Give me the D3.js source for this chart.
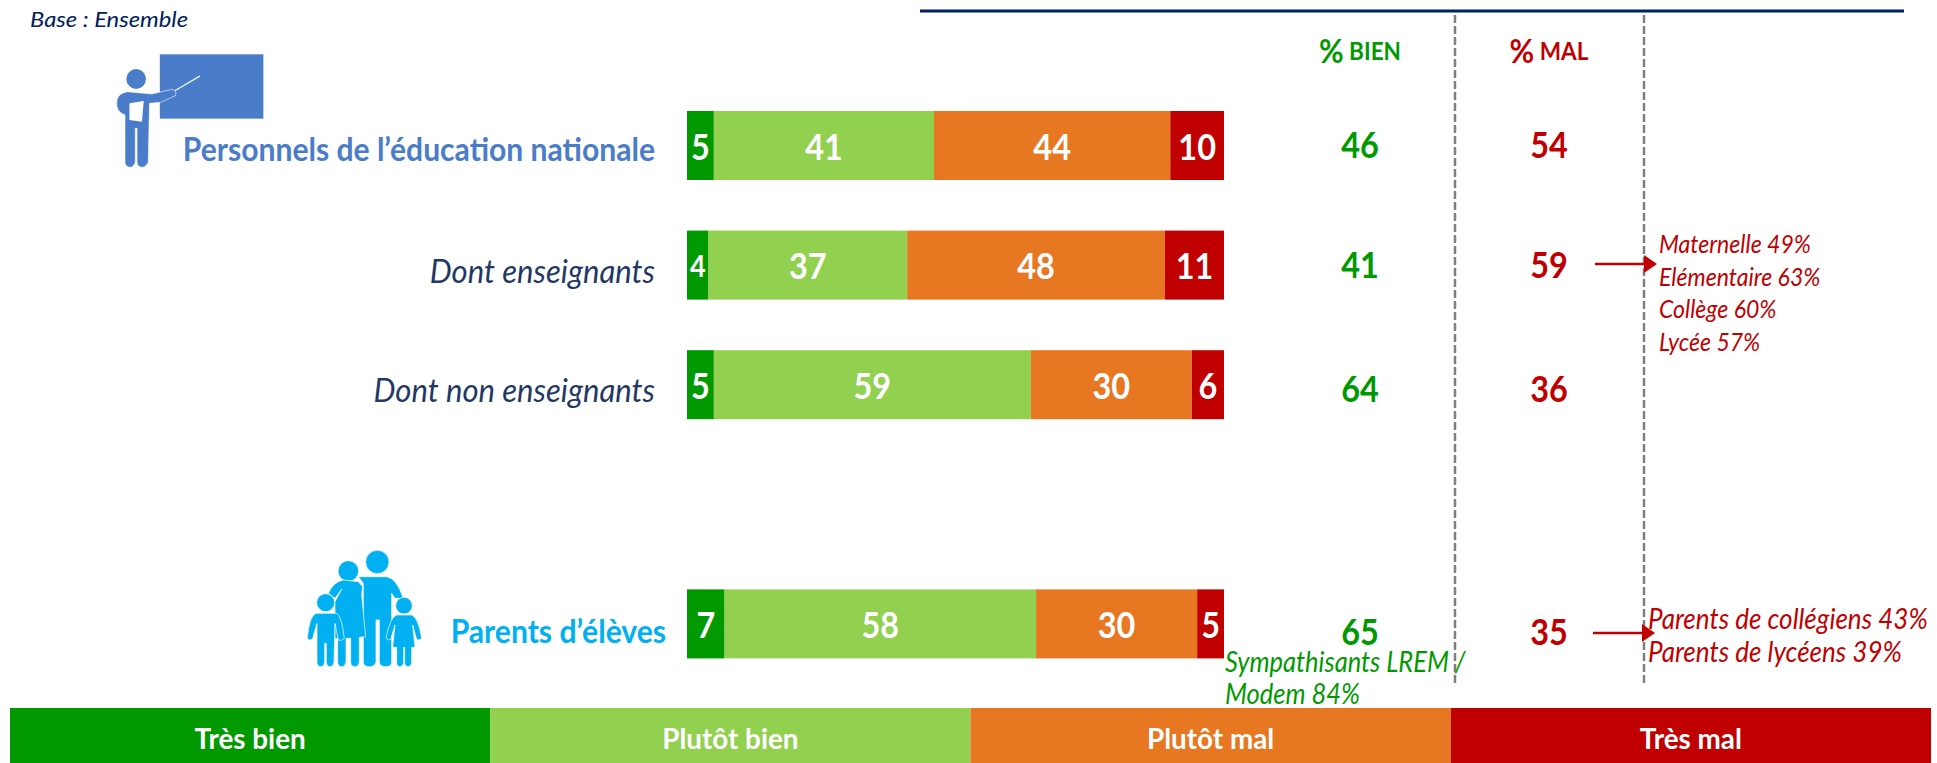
<!DOCTYPE html>
<html>
<head>
<meta charset="utf-8">
<script src="https://cdn.jsdelivr.net/npm/d3@7"></script>
<style>
  html, body { margin: 0; padding: 0; background: #fff; overflow: hidden; }
  text { font-family: Lato, "Open Sans", sans-serif; }
</style>
</head>
<body>
<svg id="chart" width="1937" height="763"></svg>
<script>
// data
const categories = ["Personnels de l’éducation nationale", "Dont enseignants", "Dont non enseignants", "", "Parents d’élèves"];
const seriesNames = ["Très bien", "Plutôt bien", "Plutôt mal", "Très mal"];
const tresBien = [5, 4, 5, null, 7];
const plutotBien = [41, 37, 59, null, 58];
const plutotMal = [44, 48, 30, null, 30];
const tresMal = [10, 11, 6, null, 5];
const pctBien = [46, 41, 64, null, 65];
const pctMal = [54, 59, 36, null, 35];
const noteEnseignants = ["Maternelle 49%", "Elémentaire 63%", "Collège 60%", "Lycée 57%"];
const noteParents = ["Parents de collégiens 43%", "Parents de lycéens 39%"];
const noteSympathisants = ["Sympathisants LREM /", "Modem 84%"];

const GREEN = "#009900", LIGHT = "#92D050", ORANGE = "#E87722", RED = "#C00000", NAVY = "#1F3864";
const colors = d3.scaleOrdinal().domain(seriesNames).range([GREEN, LIGHT, ORANGE, RED]);

const svg = d3.select("#chart");

const x = d3.scaleLinear().domain([0, 100]).range([687, 1224]);
const y = d3.scaleBand().domain(d3.range(categories.length)).range([111, 658.4]).paddingInner(0.423).paddingOuter(0);
const legendX = d3.scaleBand().domain(seriesNames).range([10, 1931]);

// Lato runs wider than the original font, so squeeze every label a bit
function squeeze(sel, k) {
  sel.each(function() {
    const len = this.getComputedTextLength();
    d3.select(this).attr("textLength", len * (k || 0.9)).attr("lengthAdjust", "spacingAndGlyphs");
  });
  return sel;
}

function label(xp, yp, txt, size, color, opts) {
  opts = opts || {};
  const t = svg.append("text")
    .attr("x", xp).attr("y", yp)
    .attr("text-anchor", opts.anchor || "middle")
    .attr("dominant-baseline", "central")
    .attr("font-size", size)
    .attr("font-weight", opts.bold ? 700 : 400)
    .attr("font-style", opts.italic ? "italic" : "normal")
    .attr("fill", color)
    .text(txt);
  return squeeze(t, opts.k);
}

// header rule and dashed separators
svg.append("line").attr("x1", 920).attr("x2", 1904).attr("y1", 11).attr("y2", 11)
  .attr("stroke", "#002060").attr("stroke-width", 3);
[1455, 1644].forEach(d => {
  svg.append("line").attr("x1", d).attr("x2", d).attr("y1", 15).attr("y2", 686)
    .attr("stroke", "#7F7F7F").attr("stroke-width", 2.5).attr("stroke-dasharray", "8 3");
});

label(30, 18, "Base : Ensemble", 22, "#002060", {anchor: "start", italic: true, k: 1.08});

// stacked bars
const rows = categories.map((c, i) => ({
  i: i, "Très bien": tresBien[i], "Plutôt bien": plutotBien[i], "Plutôt mal": plutotMal[i], "Très mal": tresMal[i]
})).filter(d => d["Très bien"] !== null);
const stacked = d3.stack().keys(seriesNames)(rows);

const layer = svg.selectAll("g.layer").data(stacked).enter().append("g")
  .attr("class", "layer").attr("fill", d => colors(d.key));
layer.selectAll("rect").data(d => d).enter().append("rect")
  .attr("x", d => x(d[0]))
  .attr("y", d => y(d.data.i))
  .attr("width", d => x(d[1]) - x(d[0]))
  .attr("height", y.bandwidth());
stacked.forEach(s => s.forEach(d => {
  const v = d[1] - d[0];
  label((x(d[0]) + x(d[1])) / 2, y(d.data.i) + y.bandwidth() / 2, v, v < 5 ? 30 : 36, "#fff", {bold: true});
}));

// category labels, dy = nudge from the bar centre
const catStyle = [
  {x: 655, size: 32, color: "#4A7DC9", bold: true, italic: false, k: 0.94, dy: 3},
  {x: 655, size: 32, color: NAVY, bold: false, italic: true, k: 0.97, dy: 5},
  {x: 655, size: 32, color: NAVY, bold: false, italic: true, k: 0.97, dy: 5},
  null,
  {x: 666, size: 32, color: "#00B0F0", bold: true, italic: false, k: 0.94, dy: 7}
];
categories.forEach((c, i) => {
  if (!c) return;
  const s = catStyle[i];
  label(s.x, y(i) + y.bandwidth() / 2 + s.dy, c, s.size, s.color, {anchor: "end", bold: s.bold, italic: s.italic, k: s.k});
});

// % bien / % mal columns
[["%", " BIEN", 1360, GREEN], ["%", " MAL", 1549, RED]].forEach(h => {
  const t = svg.append("text").attr("x", h[2]).attr("y", 50).attr("text-anchor", "middle")
    .attr("dominant-baseline", "central").attr("font-weight", 700).attr("fill", h[3]);
  t.append("tspan").attr("font-size", 32).text(h[0]);
  t.append("tspan").attr("font-size", 24).text(h[1]);
  squeeze(t, 0.94);
});
const pctDy = [-2, -1, 3, null, 7];
categories.forEach((c, i) => {
  if (!c) return;
  label(1360, y(i) + y.bandwidth() / 2 + pctDy[i], pctBien[i], 36, GREEN, {bold: true});
  label(1549, y(i) + y.bandwidth() / 2 + pctDy[i], pctMal[i], 36, RED, {bold: true});
});

// side notes
function note(lines, xp, y0, step, color, size, k) {
  lines.forEach((l, i) => label(xp, y0 + i * step, l, size, color, {anchor: "start", italic: true, k: k}));
}
note(noteEnseignants, 1659, 243, 32.7, RED, 25.6, 0.9);
note(noteParents, 1648, 618, 33, RED, 28, 0.93);
note(noteSympathisants, 1225, 661, 32, GREEN, 28, 0.91);

// arrows
function arrow(x1, x2, yp) {
  svg.append("line").attr("x1", x1).attr("x2", x2 - 10).attr("y1", yp).attr("y2", yp)
    .attr("stroke", RED).attr("stroke-width", 2.5);
  svg.append("path").attr("fill", RED)
    .attr("d", d3.line()([[x2 - 13, yp - 9], [x2, yp], [x2 - 13, yp + 9]]));
}
arrow(1595, 1657, 264);
arrow(1593, 1655, 633);

// legend
const legend = svg.selectAll("g.legend").data(seriesNames).enter().append("g").attr("class", "legend");
legend.append("rect").attr("x", d => legendX(d)).attr("y", 708)
  .attr("width", legendX.bandwidth()).attr("height", 55).attr("fill", d => colors(d));
seriesNames.forEach(d => label(legendX(d) + legendX.bandwidth() / 2, 737, d, 29, "#fff", {bold: true, k: 0.96}));

// teacher icon
const BLUE = "#4A7DC9";
const teacher = svg.append("g").attr("transform", "scale(0.4464,0.3333)");
teacher.append("rect").attr("x", 358).attr("y", 163).attr("width", 232).attr("height", 193).attr("fill", BLUE);
teacher.append("ellipse").attr("cx", 305).attr("cy", 237).attr("rx", 22).attr("ry", 30).attr("fill", BLUE);
teacher.append("path").attr("fill", BLUE).attr("stroke", "#fff").attr("stroke-width", 1.5)
  .attr("d", "M285,275 L340,282 L385,268 Q397,272 393,287 L360,307 L335,310 L332,488 Q326,502 318,502 Q308,500 307,488 L307,385 L303,385 L303,488 Q298,502 292,502 Q281,500 280,488 L280,345 Q258,335 262,300 Q265,280 285,275Z");
teacher.append("path").attr("fill", "#fff").attr("d", "M290,310 L322,303 L318,365 L290,360Z");
teacher.append("path").attr("stroke", "#fff").attr("stroke-width", 3).attr("fill", "none").attr("d", "M392,272 L448,228");

// family icon
const CYAN = "#00B0F0";
const family = svg.append("g").attr("transform", "translate(280,530) scale(0.3333)")
  .attr("fill", CYAN).attr("stroke", "#fff").attr("stroke-width", 2);
family.append("circle").attr("cx", 292).attr("cy", 96).attr("r", 35);
family.append("path").attr("d", "M235,140 L320,140 Q350,145 370,205 L345,205 L335,190 L335,395 Q335,410 318,410 Q298,410 298,395 L298,270 L288,270 L288,395 Q285,410 268,410 Q250,410 250,395 L250,160Z");
family.append("circle").attr("cx", 205).attr("cy", 123).attr("r", 31);
family.append("path").attr("d", "M190,150 L235,155 L248,170 L245,195 L257,320 L238,322 L238,395 Q236,410 225,410 Q212,410 212,395 L212,325 L198,325 L198,395 Q196,410 185,410 Q173,410 173,395 L173,325 L165,325 L165,215 L185,178 L165,205 L145,190 Q160,155 190,150Z");
family.append("circle").attr("cx", 137).attr("cy", 218).attr("r", 27);
family.append("path").attr("d", "M108,250 L170,250 Q185,258 193,325 Q185,335 175,330 L165,280 L162,395 Q160,410 150,410 Q140,410 139,395 L139,340 L134,340 L134,395 Q132,410 122,410 Q111,410 111,395 L111,280 L98,325 Q90,335 82,325 Q88,258 108,250Z");
family.append("circle").attr("cx", 372).attr("cy", 227).attr("r", 25);
family.append("path").attr("d", "M350,255 L395,255 Q415,262 425,325 Q418,333 410,328 L398,285 L405,352 L395,352 L395,400 Q392,410 384,410 Q375,410 374,400 L374,352 L371,352 L371,400 Q368,410 360,410 Q351,410 350,400 L350,352 L338,352 L345,285 L332,328 Q325,333 318,325 Q330,262 350,255Z");
</script>
</body>
</html>
